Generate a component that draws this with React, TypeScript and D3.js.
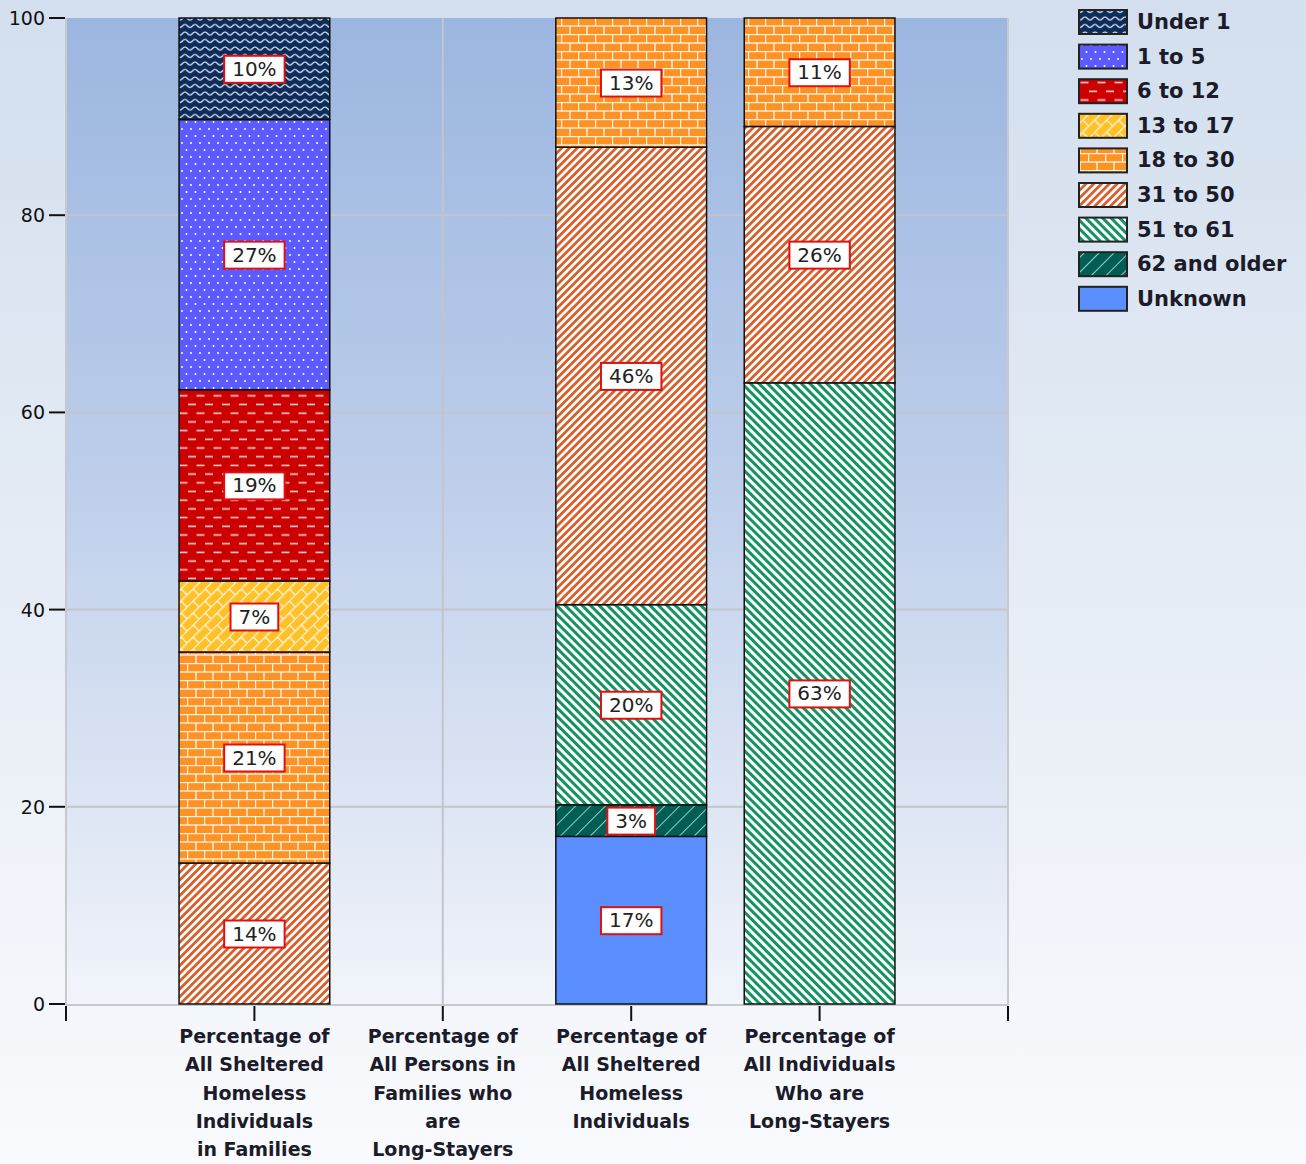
import React, { useEffect, useRef } from "react";
import * as d3 from "d3";

const categoryLines: string[][] = [
  ["Percentage of", "All Sheltered", "Homeless", "Individuals", "in Families"],
  ["Percentage of", "All Persons in", "Families who", "are", "Long-Stayers"],
  ["Percentage of", "All Sheltered", "Homeless", "Individuals"],
  ["Percentage of", "All Individuals", "Who are", "Long-Stayers"],
];

// stacking order: bottom to top
const seriesNames = [
  "Unknown",
  "62 and older",
  "51 to 61",
  "31 to 50",
  "18 to 30",
  "13 to 17",
  "6 to 12",
  "1 to 5",
  "Under 1",
];
const unknown = [0, 0, 17.0, 0];
const sixtyTwoPlus = [0, 0, 3.2, 0];
const fiftyOneTo61 = [0, 0, 20.3, 63.0];
const thirtyOneTo50 = [14.3, 0, 46.4, 26.0];
const eighteenTo30 = [21.4, 0, 13.1, 11.0];
const thirteenTo17 = [7.2, 0, 0, 0];
const sixTo12 = [19.4, 0, 0, 0];
const oneTo5 = [27.4, 0, 0, 0];
const under1 = [10.3, 0, 0, 0];
const seriesValues = [
  unknown,
  sixtyTwoPlus,
  fiftyOneTo61,
  thirtyOneTo50,
  eighteenTo30,
  thirteenTo17,
  sixTo12,
  oneTo5,
  under1,
];
const legendOrder = [
  "Under 1",
  "1 to 5",
  "6 to 12",
  "13 to 17",
  "18 to 30",
  "31 to 50",
  "51 to 61",
  "62 and older",
  "Unknown",
];
const yTicks = [0, 20, 40, 60, 80, 100];

const patternId: Record<string, string> = {
  "Under 1": "p-under1",
  "1 to 5": "p-1to5",
  "6 to 12": "p-6to12",
  "13 to 17": "p-13to17",
  "18 to 30": "p-18to30",
  "31 to 50": "p-31to50",
  "51 to 61": "p-51to61",
  "62 and older": "p-62plus",
  Unknown: "p-unknown",
};

const W = 1306;
const H = 1164;
const FONT = "'DejaVu Sans', Verdana, sans-serif";

export default function App() {
  const ref = useRef<SVGSVGElement>(null);

  useEffect(() => {
    document.body.style.margin = "0";
    const svg = d3.select(ref.current!);
    svg.selectAll("*").remove();

    const defs = svg.append("defs");
    // background gradients
    const bg = defs.append("linearGradient").attr("id", "bg").attr("x1", 0).attr("y1", 0).attr("x2", 0).attr("y2", 1);
    bg.append("stop").attr("offset", "0%").attr("stop-color", "#d3dfee");
    bg.append("stop").attr("offset", "100%").attr("stop-color", "#f9fafd");
    const pg = defs.append("linearGradient").attr("id", "plotbg").attr("x1", 0).attr("y1", 0).attr("x2", 0).attr("y2", 1);
    pg.append("stop").attr("offset", "0%").attr("stop-color", "#9bb6e0");
    pg.append("stop").attr("offset", "45%").attr("stop-color", "#bccdea");
    pg.append("stop").attr("offset", "100%").attr("stop-color", "#f1f4fa");

    // patterns
    const mk = (id: string, w: number, h: number, transform?: string) => {
      const p = defs
        .append("pattern")
        .attr("id", id)
        .attr("patternUnits", "userSpaceOnUse")
        .attr("width", w)
        .attr("height", h);
      if (transform) p.attr("patternTransform", transform);
      return p;
    };
    // Under 1: navy with white waves
    {
      const p = mk("p-under1", 10, 7.5);
      p.append("rect").attr("width", 10).attr("height", 7.5).attr("fill", "#0d2c5b");
      p.append("path")
        .attr("d", "M0,5 C2.5,5 2.5,2 5,2 C7.5,2 7.5,5 10,5")
        .attr("fill", "none")
        .attr("stroke", "#e8eef8")
        .attr("stroke-width", 1.2);
    }
    // 1 to 5: blue with white dots
    {
      const p = mk("p-1to5", 9, 14);
      p.append("rect").attr("width", 9).attr("height", 14).attr("fill", "#5b5bff");
      p.append("circle").attr("cx", 2).attr("cy", 3).attr("r", 1).attr("fill", "#fff");
      p.append("circle").attr("cx", 6.5).attr("cy", 10).attr("r", 1).attr("fill", "#fff");
    }
    // 6 to 12: red with dashes
    {
      const p = mk("p-6to12", 17, 17.4);
      p.append("rect").attr("width", 17).attr("height", 17.4).attr("fill", "#cc0000");
      p.append("rect").attr("x", 1).attr("y", 3.5).attr("width", 8).attr("height", 1.6).attr("fill", "#f4d0d0");
      p.append("rect").attr("x", 9.5).attr("y", 12.2).attr("width", 8).attr("height", 1.6).attr("fill", "#f4d0d0");
      p.append("rect").attr("x", -7.5).attr("y", 12.2).attr("width", 8).attr("height", 1.6).attr("fill", "#f4d0d0");
    }
    const brick = (id: string, color: string, transform?: string) => {
      const p = mk(id, 17, 17, transform);
      p.append("rect").attr("width", 17).attr("height", 17).attr("fill", color);
      const s = "#fff3e0";
      p.append("line").attr("x1", 0).attr("x2", 17).attr("y1", 0.5).attr("y2", 0.5).attr("stroke", s).attr("stroke-width", 1.4);
      p.append("line").attr("x1", 0).attr("x2", 17).attr("y1", 9).attr("y2", 9).attr("stroke", s).attr("stroke-width", 1.4);
      p.append("line").attr("x1", 0.5).attr("x2", 0.5).attr("y1", 0).attr("y2", 9).attr("stroke", s).attr("stroke-width", 1.4);
      p.append("line").attr("x1", 9).attr("x2", 9).attr("y1", 9).attr("y2", 17).attr("stroke", s).attr("stroke-width", 1.4);
    };
    brick("p-13to17", "#ffc125", "rotate(-45)");
    brick("p-18to30", "#ff9224");
    const stripes = (id: string, color: string, bgc: string, period: number, sw: number, angle: number) => {
      const p = mk(id, period, period, `rotate(${angle})`);
      p.append("rect").attr("width", period).attr("height", period).attr("fill", bgc);
      p.append("rect").attr("x", 0).attr("y", 0).attr("width", sw).attr("height", period).attr("fill", color);
    };
    stripes("p-31to50", "#d5602c", "#ffffff", 5.5, 2.8, 45);
    stripes("p-51to61", "#12935f", "#ffffff", 6, 3, -45);
    stripes("p-62plus", "#a8c8c4", "#005f55", 10.5, 1, 45);
    {
      const p = mk("p-unknown", 10, 10);
      p.append("rect").attr("width", 10).attr("height", 10).attr("fill", "#5b8fff");
    }

    // backgrounds
    svg.append("rect").attr("width", W).attr("height", H).attr("fill", "url(#bg)");

    const x = d3.scaleLinear().domain([0, 5]).range([66, 1008]);
    const y = d3.scaleLinear().domain([0, 100]).range([1004, 18]);

    svg
      .append("rect")
      .attr("x", x(0))
      .attr("y", y(100))
      .attr("width", x(5) - x(0))
      .attr("height", y(0) - y(100))
      .attr("fill", "url(#plotbg)");

    // grid
    const grid = svg.append("g").attr("stroke", "#c2c6cc").attr("stroke-width", 2);
    [20, 40, 60, 80].forEach((t) => {
      grid.append("line").attr("x1", x(0)).attr("x2", x(5)).attr("y1", y(t)).attr("y2", y(t));
    });
    [1, 2, 3, 4].forEach((c) => {
      grid.append("line").attr("x1", x(c)).attr("x2", x(c)).attr("y1", y(100)).attr("y2", y(0));
    });
    // borders
    const border = svg.append("g").attr("stroke", "#c8c9cc").attr("stroke-width", 2);
    border.append("line").attr("x1", x(0)).attr("x2", x(0)).attr("y1", y(100)).attr("y2", y(0) + 1);
    border.append("line").attr("x1", x(5)).attr("x2", x(5)).attr("y1", y(100)).attr("y2", y(0) + 1);
    border.append("line").attr("x1", x(0)).attr("x2", x(5)).attr("y1", y(0) + 1).attr("y2", y(0) + 1);

    // stack
    const rows = categoryLines.map((_, i) => {
      const r: Record<string, number> = { idx: i };
      seriesNames.forEach((s, k) => (r[s] = seriesValues[k][i]));
      return r;
    });
    const stack = d3.stack<Record<string, number>>().keys(seriesNames)(rows);
    const bandW = (x(1) - x(0)) * 0.8;

    const barsG = svg.append("g");
    stack.forEach((layer) => {
      layer.forEach((d, i) => {
        const v = d[1] - d[0];
        if (v <= 0) return;
        barsG
          .append("rect")
          .attr("x", x(i + 1) - bandW / 2)
          .attr("y", y(d[1]))
          .attr("width", bandW)
          .attr("height", y(d[0]) - y(d[1]))
          .attr("fill", `url(#${patternId[layer.key]})`)
          .attr("stroke", "#111")
          .attr("stroke-width", 1.5);
      });
    });

    // value labels
    const labG = svg.append("g");
    stack.forEach((layer) => {
      layer.forEach((d, i) => {
        const v = d[1] - d[0];
        if (v <= 0) return;
        const cx = x(i + 1);
        const cy = (y(d[0]) + y(d[1])) / 2;
        const g = labG.append("g");
        const rect = g.append("rect");
        const t = g
          .append("text")
          .attr("x", cx)
          .attr("y", cy)
          .attr("text-anchor", "middle")
          .attr("dominant-baseline", "central")
          .attr("font-family", FONT)
          .attr("font-size", 20)
          .attr("fill", "#222")
          .text(`${Math.round(v)}%`);
        const tw = (t.node() as SVGTextElement).getComputedTextLength();
        const bw = tw + 16;
        rect
          .attr("x", cx - bw / 2)
          .attr("y", cy - 13)
          .attr("width", bw)
          .attr("height", 27)
          .attr("fill", "#fff")
          .attr("stroke", "#e01010")
          .attr("stroke-width", 2);
      });
    });

    // axes ticks
    const axG = svg.append("g").attr("stroke", "#111").attr("stroke-width", 2);
    yTicks.forEach((t) => {
      axG.append("line").attr("x1", 49).attr("x2", 65).attr("y1", y(t)).attr("y2", y(t));
    });
    [0, 1, 2, 3, 4, 5].forEach((c) => {
      axG.append("line").attr("x1", x(c)).attr("x2", x(c)).attr("y1", y(0) + 2).attr("y2", y(0) + 17);
    });
    const tl = svg.append("g");
    yTicks.forEach((t) => {
      tl.append("text")
        .attr("x", 45)
        .attr("y", y(t))
        .attr("text-anchor", "end")
        .attr("dominant-baseline", "central")
        .attr("font-family", FONT)
        .attr("font-size", 19)
        .attr("fill", "#111")
        .text(t);
    });
    categoryLines.forEach((lines, i) => {
      lines.forEach((ln, k) => {
        tl.append("text")
          .attr("x", x(i + 1))
          .attr("y", 1043 + k * 28.3)
          .attr("text-anchor", "middle")
          .attr("font-family", FONT)
          .attr("font-size", 19)
          .attr("font-weight", "bold")
          .attr("fill", "#1b1b2a")
          .text(ln);
      });
    });

    // legend
    const lg = svg.append("g");
    legendOrder.forEach((name, k) => {
      const cy = 22 + k * 34.6;
      lg.append("rect")
        .attr("x", 1079)
        .attr("y", cy - 12)
        .attr("width", 48)
        .attr("height", 24)
        .attr("fill", `url(#${patternId[name]})`)
        .attr("stroke", "#222")
        .attr("stroke-width", 2);
      lg.append("text")
        .attr("x", 1137)
        .attr("y", cy)
        .attr("dominant-baseline", "central")
        .attr("font-family", FONT)
        .attr("font-size", 21)
        .attr("font-weight", "bold")
        .attr("fill", "#1b1b2a")
        .text(name);
    });
  }, []);

  return <svg ref={ref} width={W} height={H} style={{ display: "block" }} />;
}
